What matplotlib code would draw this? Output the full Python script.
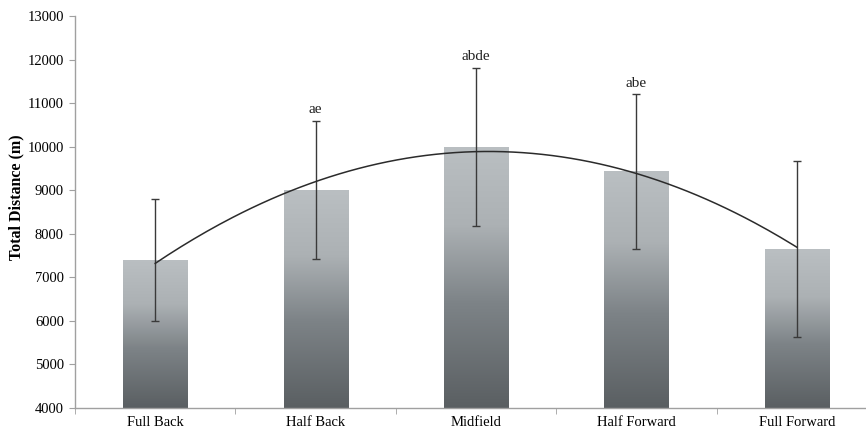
import numpy as np
import matplotlib
matplotlib.use("Agg")
import matplotlib.pyplot as plt
from matplotlib.colors import LinearSegmentedColormap

plt.rcParams['font.family'] = ['Liberation Serif', 'DejaVu Serif']

positions = ["Full Back", "Half Back", "Midfield", "Half Forward", "Full Forward"]
means = [7400, 9000, 10000, 9430, 7650]
sds = [1400, 1590, 1810, 1770, 2010]
labels = ["", "ae", "abde", "abe", ""]

fig = plt.figure(figsize=(8.66, 4.34), dpi=100)
ax = fig.add_axes([75 / 866, 1 - 408 / 434, 802 / 866, (408 - 16) / 434])

x = np.arange(1, len(positions) + 1)
ymin, ymax = 4000, 13000

cmap = LinearSegmentedColormap.from_list(
    "bar", [(0.0, "#5a5f62"), (0.4, "#7d8387"), (0.7, "#acb1b4"), (1.0, "#babfc2")])
grad = np.linspace(0, 1, 256).reshape(-1, 1)

bars = ax.bar(x, [m - ymin for m in means], bottom=ymin, width=0.4,
              color="none", edgecolor="none", zorder=2)
for b in bars:
    x0, y0 = b.get_x(), b.get_y()
    w, h = b.get_width(), b.get_height()
    im = ax.imshow(grad, cmap=cmap, origin="lower", aspect="auto",
                   extent=[x0, x0 + w, y0, y0 + h], zorder=2)
    im.set_clip_path(b)

ax.errorbar(x, means, yerr=sds, fmt="none", ecolor="#3a3a3a", elinewidth=1.0,
            capsize=3, capthick=1.0, zorder=4)

# second-order polynomial trend through the group means
coef = np.polyfit(x, means, 2)
xs = np.linspace(1, 5, 200)
ax.plot(xs, np.polyval(coef, xs), color="#2b2b2b", lw=1.1, zorder=5)

for xi, m, s, lab in zip(x, means, sds, labels):
    if lab:
        ax.text(xi, m + s + 110, lab, ha="center", va="bottom", fontsize=11,
                color="#222222")

ax.set_xlim(0.5, 5.5)
ax.set_ylim(ymin, ymax)
ax.set_yticks(np.arange(4000, 13001, 1000))
ax.set_xticks(x)
ax.set_xticklabels(positions, fontsize=10.5)
ax.set_xticks(np.arange(0.5, 5.6, 1), minor=True)
ax.tick_params(axis="x", which="major", length=0, pad=6)
ax.tick_params(axis="x", which="minor", length=4, color="#a0a0a0")
ax.tick_params(axis="y", length=4, color="#a0a0a0", labelsize=10.5, pad=4)
ax.set_ylabel("Total Distance (m)", fontsize=11.5, fontweight="bold")
ax.yaxis.set_label_coords(-0.063, 0.538)

for side in ("top", "right"):
    ax.spines[side].set_visible(False)
for side in ("left", "bottom"):
    ax.spines[side].set_color("#a0a0a0")
    ax.spines[side].set_linewidth(1.0)

fig.savefig("out.png", dpi=100)
